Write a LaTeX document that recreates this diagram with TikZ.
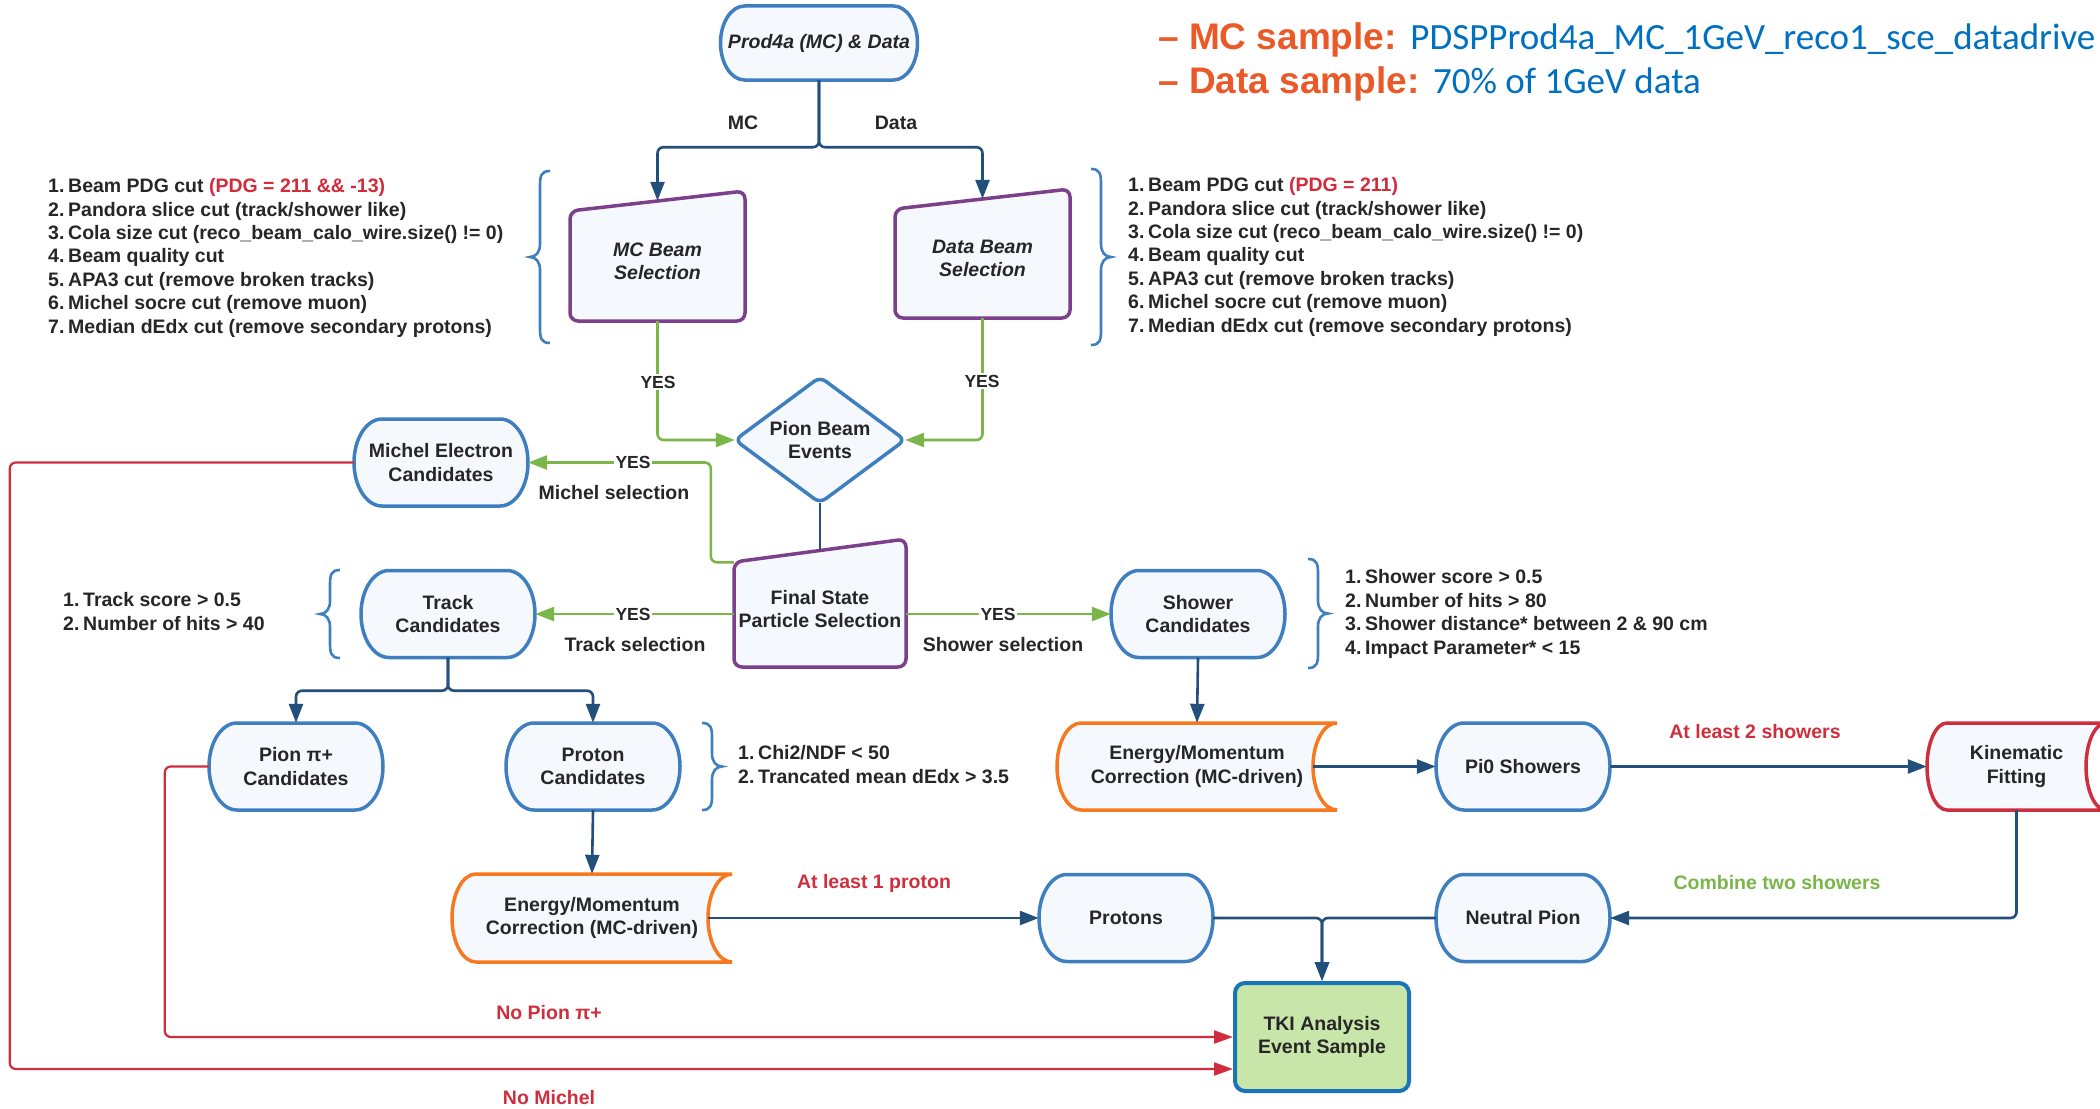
\documentclass[tikz,border=0pt]{standalone}
\usepackage{fontspec}
\setmainfont{Liberation Sans}
\newfontfamily\carlito{Carlito}
\usetikzlibrary{arrows.meta,calc}
\definecolor{nblue}{HTML}{3F7FBF}
\definecolor{nfill}{HTML}{F5F9FE}
\definecolor{npurp}{HTML}{7B3F8C}
\definecolor{navy}{HTML}{23507A}
\definecolor{ngreen}{HTML}{7AB648}
\definecolor{nred}{HTML}{CF2F3D}
\definecolor{pdgred}{HTML}{D42A3A}
\definecolor{norange}{HTML}{F7791F}
\definecolor{tkifill}{HTML}{C8E6AA}
\definecolor{tkiline}{HTML}{1A75B8}
\definecolor{txt}{HTML}{262626}
\definecolor{topor}{HTML}{EA5A28}
\definecolor{topbl}{HTML}{0070C0}
\newcommand\fsn{\fontsize{19.5}{23.4}\selectfont}
\newcommand\fsy{\fontsize{17.5}{20}\selectfont}
\newcommand\itm[1]{\makebox[20pt][l]{#1}}
\tikzset{
  shp/.style={fill=nfill, line width=3.5pt},
  tx/.style={font=\fsn\bfseries, text=txt, align=center, inner sep=0pt},
  darr/.style={draw=navy, line width=2.6pt, -{Triangle[length=19pt,width=14pt]}},
  dline/.style={draw=navy, line width=2.6pt},
  garr/.style={draw=ngreen, line width=2.6pt, -{Triangle[length=19pt,width=14pt]}},
  rarr/.style={draw=nred, line width=2.2pt, -{Triangle[length=19pt,width=13pt]}},
  lbl/.style={font=\fsn\bfseries, text=txt, inner sep=1pt},
  yes/.style={font=\fsy\bfseries, text=txt, fill=white, inner sep=1.5pt},
  brc/.style={draw=nblue, line width=2.6pt},
  lst/.style={font=\fsn\bfseries, text=txt, align=left, anchor=base west, inner sep=0pt},
}
% stadium: name, cx, cy, half width, half height, rx, colour, text
\newcommand\stad[8]{%
  \pgfmathsetmacro\zL{#2-#4}\pgfmathsetmacro\zR{#2+#4}%
  \pgfmathsetmacro\za{#2-#4+#6}\pgfmathsetmacro\zb{#2+#4-#6}%
  \pgfmathsetmacro\zT{#3-#5}\pgfmathsetmacro\zB{#3+#5}%
  \pgfmathsetmacro\zak{\za-0.5523*#6}\pgfmathsetmacro\zbk{\zb+0.5523*#6}%
  \pgfmathsetmacro\zTk{#3-0.5523*#5}\pgfmathsetmacro\zBk{#3+0.5523*#5}%
  \filldraw[shp,draw=#7] (\za,\zT) -- (\zb,\zT) .. controls (\zbk,\zT) and (\zR,\zTk) .. (\zR,#3)
    .. controls (\zR,\zBk) and (\zbk,\zB) .. (\zb,\zB) -- (\za,\zB)
    .. controls (\zak,\zB) and (\zL,\zBk) .. (\zL,#3)
    .. controls (\zL,\zTk) and (\zak,\zT) .. (\za,\zT) -- cycle;
  \node[tx, minimum width={2*#4}, minimum height={2*#5}] (#1) at (#2,#3) {#8};
}
% stored data: left convex, right concave
\newcommand\sdat[8]{%
  \pgfmathsetmacro\zL{#2-#4}\pgfmathsetmacro\zR{#2+#4}%
  \pgfmathsetmacro\za{#2-#4+#6}\pgfmathsetmacro\zRi{#2+#4-#6}%
  \pgfmathsetmacro\zT{#3-#5}\pgfmathsetmacro\zB{#3+#5}%
  \pgfmathsetmacro\zak{\za-0.5523*#6}\pgfmathsetmacro\zRk{\zR-0.5523*#6}%
  \pgfmathsetmacro\zTk{#3-0.5523*#5}\pgfmathsetmacro\zBk{#3+0.5523*#5}%
  \filldraw[shp,draw=#7] (\za,\zT) -- (\zR,\zT) .. controls (\zRk,\zT) and (\zRi,\zTk) .. (\zRi,#3)
    .. controls (\zRi,\zBk) and (\zRk,\zB) .. (\zR,\zB) -- (\za,\zB)
    .. controls (\zak,\zB) and (\zL,\zBk) .. (\zL,#3)
    .. controls (\zL,\zTk) and (\zak,\zT) .. (\za,\zT) -- cycle;
  \node[tx, minimum width={2*#4}, minimum height={2*#5}] (#1) at (#2,#3) {#8};
}
% manual input: name, x1, x2, y top-left, y top-right, y bottom, text
\newcommand\minp[7]{%
  \filldraw[shp,draw=npurp,rounded corners=8pt] (#2,#4) -- (#3,#5) -- (#3,#6) -- (#2,#6) -- cycle;
  \pgfmathsetmacro\zm{(#4+#5)/2}%
  \node[tx, minimum width={#3-#2}, minimum height={#6-\zm}] (#1) at ({(#2+#3)/2},{(\zm+#6)/2}) {#7};
}
% braces
\newcommand\brL[3]{%
  \pgfmathsetmacro\zm{(#2+#3)/2}%
  \draw[brc] (#1,#2) .. controls ({#1-9},#2) and ({#1-10},{#2+5}) .. ({#1-10},{#2+15})
    -- ({#1-10},{\zm-13}) .. controls ({#1-10},{\zm-5}) and ({#1-14},\zm) .. ({#1-20},\zm)
    .. controls ({#1-14},\zm) and ({#1-10},{\zm+5}) .. ({#1-10},{\zm+13})
    -- ({#1-10},{#3-15}) .. controls ({#1-10},{#3-5}) and ({#1-9},#3) .. (#1,#3);}
\newcommand\brR[3]{%
  \pgfmathsetmacro\zm{(#2+#3)/2}%
  \draw[brc] (#1,#2) .. controls ({#1+9},#2) and ({#1+10},{#2+5}) .. ({#1+10},{#2+15})
    -- ({#1+10},{\zm-13}) .. controls ({#1+10},{\zm-5}) and ({#1+14},\zm) .. ({#1+20},\zm)
    .. controls ({#1+14},\zm) and ({#1+10},{\zm+5}) .. ({#1+10},{\zm+13})
    -- ({#1+10},{#3-15}) .. controls ({#1+10},{#3-5}) and ({#1+9},#3) .. (#1,#3);}
\begin{document}
\begin{tikzpicture}[x=1pt,y=-1pt]
\useasboundingbox (0,0) rectangle (2100,1108);
\clip (0,0) rectangle (2100,1108);
\fill[white] (0,0) rectangle (2100,1108);

% ---------- shapes and nodes ----------
\stad{prod}{819}{43}{98.5}{37}{24}{nblue}{\itshape Prod4a (MC) \& Data}
\minp{mcsel}{570}{745}{211}{191}{321}{\itshape MC Beam\\\itshape Selection}
\minp{datasel}{895}{1070}{209}{189}{318}{\itshape Data Beam\\\itshape Selection}
\filldraw[shp,draw=nblue,rounded corners=7pt] (735,440) -- (820,377) -- (905,440) -- (820,503) -- cycle;
\node[tx, minimum width=170, minimum height=126] (pbe) at (820,440) {Pion Beam\\Events};
\minp{fsps}{734}{906}{562}{539}{667}{Final State\\Particle Selection}
\stad{michel}{441}{462.5}{87}{43.5}{28}{nblue}{Michel Electron\\Candidates}
\stad{track}{448}{614}{87}{43.5}{28}{nblue}{Track\\Candidates}
\stad{shower}{1198}{614}{87}{43.5}{28}{nblue}{Shower\\Candidates}
\stad{pionp}{296}{766.5}{87}{43.5}{28}{nblue}{Pion π+\\Candidates}
\stad{proton}{593}{766.5}{87}{43.5}{28}{nblue}{Proton\\Candidates}
\sdat{eml}{592}{918}{140}{44}{24}{norange}{Energy/Momentum\\Correction (MC-driven)}
\sdat{emr}{1197}{766.5}{140}{43.5}{24}{norange}{Energy/Momentum\\Correction (MC-driven)}
\stad{pi0}{1523}{766.5}{87}{43.5}{28}{nblue}{Pi0 Showers}
\sdat{kin}{2016.5}{766.5}{89.5}{43.5}{20}{nred}{Kinematic\\Fitting}
\stad{protons}{1126}{918}{87}{43.5}{28}{nblue}{Protons}
\stad{npion}{1523}{918}{87}{43.5}{28}{nblue}{Neutral Pion}
\node[tx, draw=tkiline, fill=tkifill, line width=4pt, rounded corners=10pt,
      minimum width=174, minimum height=108] (tki) at (1322,1037) {TKI Analysis\\Event Sample};

% ---------- braces ----------
\brL{550}{171}{343}
\brR{1091}{169}{345}
\brL{340}{570}{658}
\brR{702}{723}{810}
\brR{1308}{559}{668}

% ---------- lists (anchored at the baseline of their last line) ----------
\node[lst] (listmc) at (48,333) {\itm{1.}Beam PDG cut {\color{pdgred}(PDG = 211 \&\& -13)}\\
  \itm{2.}Pandora slice cut (track/shower like)\\
  \itm{3.}Cola size cut (reco\_beam\_calo\_wire.size() != 0)\\
  \itm{4.}Beam quality cut\\
  \itm{5.}APA3 cut (remove broken tracks)\\
  \itm{6.}Michel socre cut (remove muon)\\
  \itm{7.}Median dEdx cut (remove secondary protons)};
\node[lst] (listdata) at (1128,332) {\itm{1.}Beam PDG cut {\color{pdgred}(PDG = 211)}\\
  \itm{2.}Pandora slice cut (track/shower like)\\
  \itm{3.}Cola size cut (reco\_beam\_calo\_wire.size() != 0)\\
  \itm{4.}Beam quality cut\\
  \itm{5.}APA3 cut (remove broken tracks)\\
  \itm{6.}Michel socre cut (remove muon)\\
  \itm{7.}Median dEdx cut (remove secondary protons)};
\node[lst] (listtrack) at (63,630) {\itm{1.}Track score > 0.5\\ \itm{2.}Number of hits > 40};
\node[lst] (listshower) at (1345,654) {\itm{1.}Shower score > 0.5\\ \itm{2.}Number of hits > 80\\
  \itm{3.}Shower distance* between 2 \& 90 cm\\ \itm{4.}Impact Parameter* < 15};
\node[lst] (listproton) at (738,783) {\itm{1.}Chi2/NDF < 50\\ \itm{2.}Trancated mean dEdx > 3.5};

% ---------- top texts ----------
\node[anchor=base west, inner sep=0pt] (mcsample) at (1158,49) {\fontsize{37}{40}\selectfont\bfseries\color{topor}– MC sample: {\carlito\mdseries\color{topbl}PDSPProd4a\_MC\_1GeV\_reco1\_sce\_datadrive}};
\node[anchor=base west, inner sep=0pt] (datasample) at (1158,93) {\fontsize{37}{40}\selectfont\bfseries\color{topor}– Data sample: {\carlito\mdseries\color{topbl}70\% of 1GeV data}};

% ---------- connectors ----------
\draw[darr, rounded corners=6pt] (prod.south) -- ++(0,67) -| (mcsel.north);
\draw[darr, rounded corners=6pt] (prod.south) -- ++(0,67) -| (datasel.north);
\draw[garr, rounded corners=6pt] (mcsel.south) |- (pbe.west);
\draw[garr, rounded corners=6pt] (datasel.south) |- (pbe.east);
\draw[dline] (pbe.south) -- (fsps.north);
\draw[garr, rounded corners=6pt] ([yshift=-12pt]fsps.north west) -- ++(-23,0) |- (michel.east);
\draw[garr] (fsps.west |- track.east) -- (track.east);
\draw[garr] (fsps.east |- shower.west) -- (shower.west);
\draw[darr, rounded corners=6pt] (track.south) -- ++(0,33) -| (pionp.north);
\draw[darr, rounded corners=6pt] (track.south) -- ++(0,33) -| (proton.north);
\draw[darr] (proton.south) -- (eml.north);
\draw[darr] ([xshift=-24pt]eml.east) -- (protons.west);
\draw[darr] (shower.south) -- (emr.north);
\draw[darr] ([xshift=-24pt]emr.east) -- (pi0.west);
\draw[darr] (pi0.east) -- (kin.west);
\draw[darr, rounded corners=6pt] (kin.south) |- (npion.east);
\draw[darr, rounded corners=6pt] (protons.east) -| (tki.north);
\draw[darr, rounded corners=6pt] (npion.west) -| (tki.north);
\draw[rarr, rounded corners=6pt] (pionp.west) -- ++(-44,0) |- (tki.west);
\draw[rarr, rounded corners=6pt] (michel.west) -- ++(-344,0) |- ([yshift=-32pt]tki.west);

% ---------- labels ----------
\node[lbl] (lmc) at (743,123) {MC};
\node[lbl] (ldata) at (896,123) {Data};
\node[yes] (y1) at (658,382) {YES};
\node[yes] (y2) at (982,381) {YES};
\node[yes] (y3) at (633,462) {YES};
\node[lbl] (lms) at (614,493) {Michel selection};
\node[yes] (y4) at (633,614) {YES};
\node[yes] (y5) at (998,614) {YES};
\node[lbl] (lts) at (635,645) {Track selection};
\node[lbl] (lss) at (1003,645) {Shower selection};
\node[lbl, text=nred] (lp1) at (874,883) {At least 1 proton};
\node[lbl, text=nred] (ls2) at (1755,732) {At least 2 showers};
\node[lbl, text=ngreen] (lcs) at (1777,883) {Combine two showers};
\node[lbl, text=nred] (lnp) at (549,1013) {No Pion π+};
\node[lbl, text=nred] (lnm) at (549,1098) {No Michel};
\end{tikzpicture}
\end{document}
